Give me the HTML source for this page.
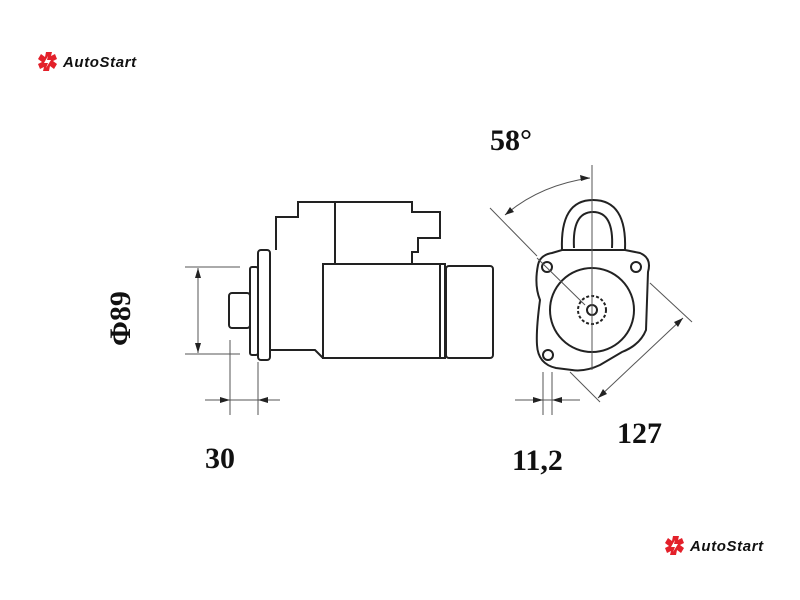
<!DOCTYPE html>
<html><head><style>
body{margin:0;background:#fff}
svg{display:block}
</style></head><body>
<svg width="800" height="600" viewBox="0 0 800 600" xmlns="http://www.w3.org/2000/svg">
<rect width="800" height="600" fill="#fff"/>
<g transform="translate(38,52)">
<path d="M8 0 L14 0 L13 4 L17 2 L19 7 L15 9 L19 12 L16 17 L12 14 L11 19 L5 19 L6 15 L2 17 L0 12 L4 10 L0 7 L3 2 L7 5 Z" fill="#e3202a"/>
<path d="M10 4 L6 11 L10 11 L8 16 L13 8 L9 8 Z" fill="#fff"/>
<text x="25" y="15" font-family="Liberation Sans,sans-serif" font-size="15" letter-spacing="0.6" font-style="italic" font-weight="bold" fill="#111">AutoStart</text>
</g>
<g transform="translate(665,536)">
<path d="M8 0 L14 0 L13 4 L17 2 L19 7 L15 9 L19 12 L16 17 L12 14 L11 19 L5 19 L6 15 L2 17 L0 12 L4 10 L0 7 L3 2 L7 5 Z" fill="#e3202a"/>
<path d="M10 4 L6 11 L10 11 L8 16 L13 8 L9 8 Z" fill="#fff"/>
<text x="25" y="15" font-family="Liberation Sans,sans-serif" font-size="15" letter-spacing="0.6" font-style="italic" font-weight="bold" fill="#111">AutoStart</text>
</g>
<g fill="none" stroke="#222" stroke-width="2">
<rect x="229" y="293" width="21" height="35" rx="3"/>
<rect x="250" y="267" width="8" height="88" rx="2"/>
<rect x="258" y="250" width="12" height="110" rx="3"/>
<path d="M270 350 L315 350 L323 358 M276 250 L276 217 L298 217 L298 202 L412 202 L412 212 L440 212 L440 238 L418 238 L418 252 L412 252 L412 263 M335 202 L335 263"/>
<rect x="323" y="264" width="122" height="94"/>
<line x1="440" y1="264" x2="440" y2="358"/>
<rect x="446" y="266" width="47" height="92" rx="3"/>
<path d="M562 250 Q560 200 593 200 Q627 200 625 250"/>
<path d="M574 248 Q572 212 593 212 Q614 212 612 248"/>
<path d="M538 265 Q540 255 552 253 L562 250 L625 250 L640 253 Q652 258 648 272 L646 330 Q640 345 622 352 L600 365 Q585 372 572 370 L556 368 Q538 364 537 345 Q536 330 540 300 Q534 285 538 265 Z"/>
<circle cx="547" cy="267" r="5"/>
<circle cx="636" cy="267" r="5"/>
<circle cx="548" cy="355" r="5"/>
<circle cx="592" cy="310" r="42"/>
<circle cx="592" cy="310" r="14" stroke-dasharray="3 2"/>
<circle cx="592" cy="310" r="5"/>
</g>
<g fill="none" stroke="#555" stroke-width="1">
<line x1="592" y1="165" x2="592" y2="370"/>
<line x1="537" y1="258" x2="585" y2="305"/>
<line x1="185" y1="267" x2="240" y2="267"/>
<line x1="185" y1="354" x2="240" y2="354"/>
<line x1="198" y1="268" x2="198" y2="353"/>
<line x1="230" y1="340" x2="230" y2="415"/>
<line x1="258" y1="362" x2="258" y2="415"/>
<line x1="205" y1="400" x2="280" y2="400"/>
<line x1="543" y1="372" x2="543" y2="415"/>
<line x1="552" y1="372" x2="552" y2="415"/>
<line x1="515" y1="400" x2="580" y2="400"/>
<line x1="490" y1="208" x2="537" y2="256"/>
<path d="M505 215 Q540 185 590 178"/>
<line x1="650" y1="283" x2="692" y2="322"/>
<line x1="570" y1="372" x2="600" y2="402"/>
<line x1="598" y1="398" x2="683" y2="318"/>
</g>
<g fill="#222">
<path d="M198 268 L195 278 L201 278 Z M198 353 L195 343 L201 343 Z"/>
<path d="M230 400 L220 397 L220 403 Z M258 400 L268 397 L268 403 Z"/>
<path d="M543 400 L533 397 L533 403 Z M552 400 L562 397 L562 403 Z"/>
<path d="M590 178 L580 175 L581 181 Z M505 215 L510 207 L514 212 Z"/>
<path d="M683 318 L674 322 L678 327 Z M598 398 L603 389 L607 394 Z"/>
</g>
<g font-family="Liberation Serif,serif" font-weight="bold" font-size="30" fill="#111">
<text x="490" y="150">58°</text>
<text x="205" y="468">30</text>
<text x="512" y="470">11,2</text>
<text x="617" y="443">127</text>
<text transform="translate(130,346) rotate(-90)">Φ89</text>
</g>
</svg>
</body></html>
